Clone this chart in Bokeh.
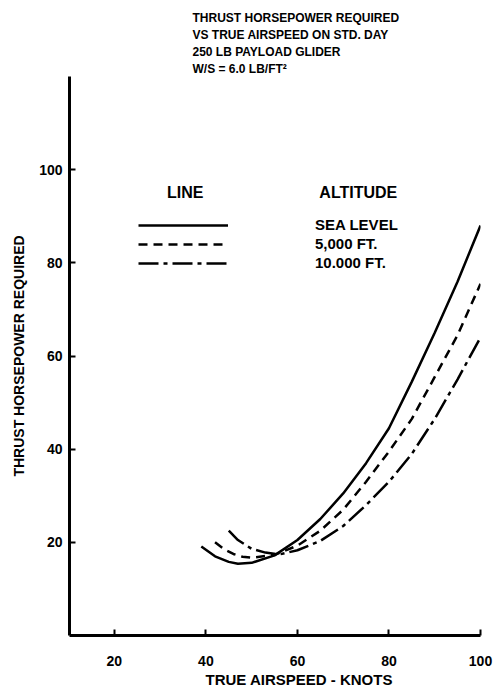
from bokeh.plotting import figure
from bokeh.models import (Range1d, FixedTicker, Legend, LegendItem, Label, Title)
from bokeh.embed import file_html
from bokeh.resources import INLINE

# ---- data ----
knots_sl = [39, 42, 45, 47, 50, 55, 60, 65, 70, 75, 80, 85, 90, 95, 100]
hp_sl = [19.1, 17.0, 15.8, 15.4, 15.6, 17.2, 20.5, 25.0, 30.5, 37.0, 44.5, 54.5, 65.0, 76.0, 88.0]

knots_5k = [42, 44, 46, 48, 50, 55, 60, 65, 70, 75, 80, 85, 90, 95, 100]
hp_5k = [20.0, 18.5, 17.5, 16.9, 16.7, 17.3, 19.3, 22.5, 27.0, 33.0, 39.5, 46.5, 55.5, 64.5, 75.5]

knots_10k = [45, 47, 50, 53, 56, 60, 65, 70, 75, 80, 85, 90, 95, 100]
hp_10k = [22.5, 20.5, 18.6, 17.8, 17.4, 18.3, 20.3, 23.5, 28.0, 33.0, 39.0, 46.5, 55.0, 64.0]

series_labels = ["SEA LEVEL", "5,000 FT.", "10.000 FT."]
x_ticks = [20, 40, 60, 80, 100]
y_ticks = [20, 40, 60, 80, 100]
title_lines = ["THRUST HORSEPOWER REQUIRED",
               "VS TRUE AIRSPEED ON STD.  DAY",
               "250 LB PAYLOAD GLIDER",
               "W/S = 6.0 LB/FT\u00b2"]

FONT = "Liberation Sans"

p = figure(width=500, height=696, output_backend="svg", toolbar_location=None,
           x_range=Range1d(10.2, 100), y_range=Range1d(0, 120),
           min_border_left=69, min_border_right=20, min_border_top=76,
           min_border_bottom=61)
p.title.visible = False
p.grid.visible = False
p.outline_line_color = None
p.background_fill_color = "white"
p.border_fill_color = "white"

for ax in (p.xaxis[0], p.yaxis[0]):
    ax.axis_line_width = 3
    ax.axis_line_color = "black"
    ax.major_tick_in = 6
    ax.major_tick_out = 0
    ax.major_tick_line_width = 2
    ax.minor_tick_line_color = None
    ax.major_label_text_font = FONT
    ax.major_label_text_font_style = "bold"
    ax.major_label_text_font_size = "14px"
    ax.major_label_text_color = "black"
    ax.axis_label_text_font = FONT
    ax.axis_label_text_font_style = "bold"
    ax.axis_label_text_color = "black"
    ax.axis_label_text_font_size = "14px"

p.xaxis.ticker = FixedTicker(ticks=x_ticks)
p.yaxis.ticker = FixedTicker(ticks=y_ticks)
p.xaxis.major_label_standoff = 20
p.yaxis.major_label_standoff = 7
p.yaxis.axis_label = "THRUST HORSEPOWER REQUIRED"
p.yaxis.axis_label_standoff = 9

# x-axis title (offset to the right like the original)
p.add_layout(Title(text="TRUE AIRSPEED - KNOTS", align="left", offset=136,
                   text_font=FONT, text_font_style="bold", text_font_size="15px",
                   text_color="black", standoff=1), "below")

# chart title, 4 lines (added bottom-up)
for line in reversed(title_lines):
    p.add_layout(Title(text=line, align="left", offset=123, text_font=FONT,
                       text_font_style="bold", text_font_size="12px",
                       text_color="black", standoff=1), "above")

# zero label on y axis (set apart as in original)
p.add_layout(Label(x=10.2, y=0, text="0", x_offset=-31, text_font=FONT,
                   text_font_style="bold", text_font_size="14px",
                   text_color="black",
                   text_align="center", text_baseline="middle"))

r_sl = p.line(knots_sl, hp_sl, line_color="black", line_width=2.5)
r_5k = p.line(knots_5k, hp_5k, line_color="black", line_width=2.5, line_dash="9 6")
r_10k = p.line(knots_10k, hp_10k, line_color="black", line_width=2.5, line_dash="20 5 4 5")

legend = Legend(items=[LegendItem(label=series_labels[0], renderers=[r_sl]),
                       LegendItem(label=series_labels[1], renderers=[r_5k]),
                       LegendItem(label=series_labels[2], renderers=[r_10k])],
                location=(69, 364), padding=0, margin=0, spacing=2,
                glyph_width=90, glyph_height=16, label_height=16,
                label_standoff=87, border_line_color=None,
                background_fill_alpha=0,
                label_text_font=FONT, label_text_font_style="bold",
                label_text_font_size="15px", label_text_color="black")
p.add_layout(legend, "center")

p.add_layout(Label(x=35.5, y=95.1, text="LINE", text_font=FONT,
                   text_font_style="bold", text_font_size="16px",
                   text_color="black",
                   text_align="center", text_baseline="middle"))
p.add_layout(Label(x=73.3, y=95.1, text="ALTITUDE", text_font=FONT,
                   text_font_style="bold", text_font_size="16px",
                   text_color="black",
                   text_align="center", text_baseline="middle"))

open("out.html", "w").write(file_html(p, INLINE))
